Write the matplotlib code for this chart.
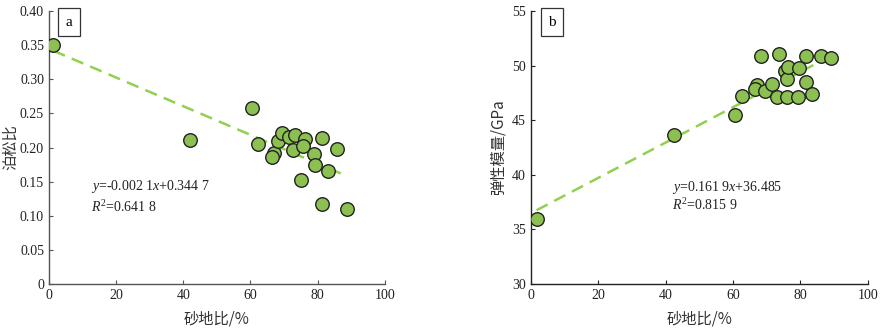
import numpy as np
import matplotlib.pyplot as plt

plt.rcParams['font.family'] = ['Liberation Serif', 'Noto Sans CJK SC']
plt.rcParams['mathtext.fontset'] = 'custom'
plt.rcParams['mathtext.rm'] = 'Liberation Serif'
plt.rcParams['mathtext.it'] = 'Liberation Serif:italic'

# 砂地比 vs 泊松比
sand_a = [1.3, 42.1, 60.5, 62.4, 67.0, 66.5, 68.2, 69.4, 71.4, 73.4, 72.8,
          76.3, 75.8, 75.0, 78.9, 79.4, 81.3, 81.3, 83.2, 85.9, 88.9]
poisson = [0.350, 0.211, 0.258, 0.206, 0.192, 0.186, 0.209, 0.221, 0.215, 0.218, 0.196,
           0.212, 0.202, 0.152, 0.191, 0.174, 0.214, 0.117, 0.165, 0.198, 0.110]

# 砂地比 vs 弹性模量
sand_b = [1.7, 42.6, 60.6, 62.7, 67.2, 66.6, 68.3, 69.6, 71.6, 73.1, 73.7,
          75.3, 76.1, 76.4, 76.1, 79.2, 79.5, 81.8, 81.8, 83.5, 86.1, 89.0]
modulus = [35.95, 43.7, 45.5, 47.2, 48.25, 47.85, 50.9, 47.7, 48.3, 47.15, 51.05,
           49.5, 48.75, 49.85, 47.15, 47.15, 49.75, 50.9, 48.55, 47.4, 50.9, 50.7]

fit_a = (-0.0021, 0.3447, 0.6418)
fit_b = (0.1619, 36.485, 0.8159)

fill = '#8cc152'
line = '#92d050'
cjk = ['Noto Sans CJK SC', 'Liberation Serif']

fig = plt.figure(figsize=(8.81, 3.28), dpi=100)
ax1 = fig.add_axes([0.0556, 0.134, 0.381, 0.832])
ax2 = fig.add_axes([0.6025, 0.134, 0.3825, 0.832])


def style(ax, spine_color):
    for s in ['top', 'right']:
        ax.spines[s].set_visible(False)
    for s in ['left', 'bottom']:
        ax.spines[s].set_color(spine_color)
        ax.spines[s].set_linewidth(1.0)
    ax.tick_params(direction='in', length=3, width=0.8, colors=spine_color,
                   labelsize=10, labelcolor='#222222')
    ax.set_xlim(0, 100)
    ax.set_xticks([0, 20, 40, 60, 80, 100])
    ax.set_xlabel('砂地比/%', fontsize=11, family=cjk,
                  color='#333333', labelpad=6)


def fit_line(ax, x, k, b):
    xs = np.array([min(x), max(x)])
    ax.plot(xs, k * xs + b, ls=(0, (5, 3)), color=line, lw=1.8, zorder=2)


def panel_tag(ax, x, y, s):
    ax.text(x, y, s, fontsize=11, ha='center', va='center',
            bbox=dict(boxstyle='square,pad=0.5', fc='white', ec='#333333', lw=0.9))


# panel a
style(ax1, '#555555')
ax1.set_ylim(0, 0.40)
ax1.set_yticks(np.arange(0, 0.401, 0.05))
ax1.set_yticklabels(['0'] + ['%.2f' % v for v in np.arange(0.05, 0.401, 0.05)])
ax1.set_ylabel('泊松比', fontsize=11, family=cjk, color='#333333')
ax1.yaxis.set_label_coords(-0.090, 0.5)
fit_line(ax1, sand_a, fit_a[0], fit_a[1])
ax1.scatter(sand_a, poisson, s=95, c=fill, edgecolors='#222222',
            linewidths=1.0, zorder=3)
ax1.text(12.5, 0.1436, '$y$=-0.002 1$x$+0.344 7', fontsize=10,
         va='center', color='#222222')
ax1.text(12.5, 0.113, '$R^{2}$=0.641 8', fontsize=10, va='center', color='#222222')
panel_tag(ax1, 6.0, 0.384, 'a')

# panel b
style(ax2, '#222222')
ax2.set_ylim(30, 55)
ax2.set_yticks([30, 35, 40, 45, 50, 55])
ax2.set_ylabel('弹性模量/GPa', fontsize=11, family=cjk, color='#333333')
ax2.yaxis.set_label_coords(-0.073, 0.5)
fit_line(ax2, sand_b, fit_b[0], fit_b[1])
ax2.scatter(sand_b, modulus, s=95, c=fill, edgecolors='#222222',
            linewidths=1.0, zorder=3)
ax2.text(41.8, 38.8, '$y$=0.161 9$x$+36.485', fontsize=10,
         va='center', color='#222222')
ax2.text(41.8, 37.25, '$R^{2}$=0.815 9', fontsize=10, va='center', color='#222222')
panel_tag(ax2, 6.3, 54.0, 'b')

fig.savefig('out.png', dpi=100)
